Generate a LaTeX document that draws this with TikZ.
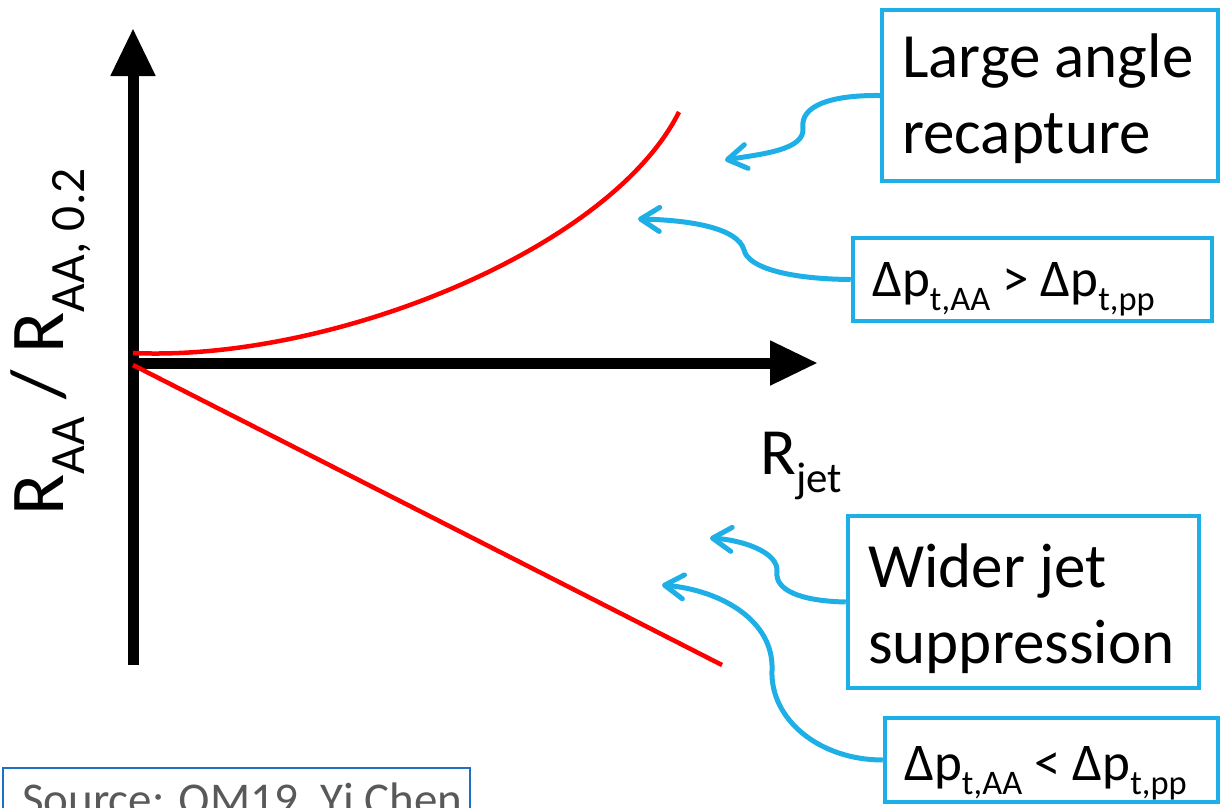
\documentclass[tikz,border=0pt]{standalone}
\usepackage{fontspec}
\setmainfont{Carlito}
\usetikzlibrary{arrows.meta}
\definecolor{cblue}{RGB}{29,175,230}
\definecolor{sblue}{RGB}{30,112,192}
\definecolor{sgray}{RGB}{89,89,89}
\newcommand\sbs[1]{\raisebox{-0.28em}{\scalebox{0.65}{#1}}}
\begin{document}
\begin{tikzpicture}[x=1pt,y=-1pt,
  axis/.style={line width=11pt, -{Triangle[length=48pt,width=42pt]}},
  redline/.style={red, line width=4.5pt},
  conn/.style={cblue, line width=5pt, -{Straight Barb[length=19pt,width=24pt,round]}},
  box/.style={draw=cblue, line width=4.5pt, rectangle, inner sep=0pt},
  bigtxt/.style={font=\fontsize{63}{76}\selectfont, inner sep=0pt, anchor=base west},
  midtxt/.style={font=\fontsize{53}{62}\selectfont, inner sep=0pt, anchor=base west}]
\useasboundingbox (0,0) rectangle (1221,807);
\clip (0,0) rectangle (1221,807);

% axes
\coordinate (ytop) at (133,28);
\coordinate (ybot) at (133,665);
\coordinate (xleft) at (127.5,363);
\coordinate (xright) at (818,363);
\draw[axis] (ybot) -- (ytop);
\draw[axis] (xleft) -- (xright);

% red curves
\coordinate (u0) at (133,353);
\coordinate (u1) at (679,112);
\coordinate (l0) at (133,365);
\coordinate (l1) at (722,665);
\draw[redline] (u0) .. controls (330,362) and (610,250) .. (u1);
\draw[redline] (l0) -- (l1);

% axis labels
\node[rotate=90, anchor=base, font=\fontsize{76}{90}\selectfont, inner sep=0pt] (ylab) at (63,342) {R\sbs{AA} / R\sbs{AA, 0.2}};
\node[anchor=base west, font=\fontsize{66}{78}\selectfont, inner sep=0pt] (xlab) at (760,474) {R\sbs{jet}};

% boxes
\node[box, minimum width=336pt, minimum height=171pt] (b1) at (1050,95.5) {};
\node[bigtxt] (b1a) at (902,77) {Large angle};
\node[bigtxt] (b1b) at (902,153) {recapture};

\node[box, minimum width=359pt, minimum height=83pt] (b2) at (1032.5,279.5) {};
\node[midtxt] (b2a) at (872,296) {Δp\sbs{t,AA} > Δp\sbs{t,pp}};

\node[box, minimum width=351pt, minimum height=172pt] (b3) at (1023.5,602) {};
\node[bigtxt] (b3a) at (868,587) {Wider jet};
\node[bigtxt] (b3b) at (868,663) {suppression};

\node[box, minimum width=333pt, minimum height=84pt] (b4) at (1051.5,760) {};
\node[midtxt] (b4a) at (904,780) {Δp\sbs{t,AA} < Δp\sbs{t,pp}};

% connectors
\coordinate (t1) at (725,160);
\coordinate (t2) at (638,219);
\coordinate (t3) at (710,538);
\coordinate (t4) at (662,585);
\draw[conn] (b1.west) .. controls (830,95) and (800,106) .. (803,128) .. controls (805,150) and (762,154) .. (t1);
\draw[conn] (b2.west) .. controls (790,279) and (748,268) .. (744,250) .. controls (738,228) and (690,220) .. (t2);
\draw[conn] (b3.west) .. controls (800,601) and (775,590) .. (777,572) .. controls (779,552) and (742,540) .. (t3);
\draw[conn] (b4.west) .. controls (820,760) and (770,720) .. (772,670) .. controls (774,620) and (720,590) .. (t4);

% source box
\node[draw=sblue, line width=2pt, minimum width=467pt, minimum height=70pt, anchor=north west, inner sep=0pt] (srcbox) at (2,767) {};
\node[anchor=base west, text=sgray, font=\fontsize{47}{56}\selectfont, inner sep=0pt] (srctxt) at (22,815) {Source: QM19, Yi Chen};
\end{tikzpicture}
\end{document}
